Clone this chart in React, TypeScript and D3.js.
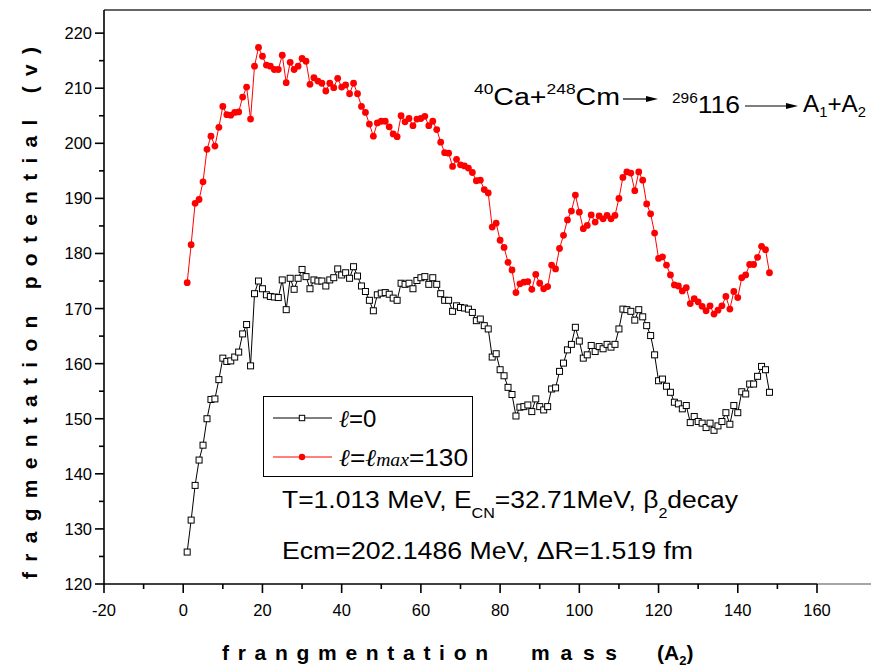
import React from 'react';
import * as d3 from 'd3';

const massA2 = [
  1, 2, 3, 4, 5, 6, 7, 8, 9, 10, 11, 12, 13, 14, 15, 16, 17, 18, 19, 20,
  21, 22, 23, 24, 25, 26, 27, 28, 29, 30, 31, 32, 33, 34, 35, 36, 37, 38, 39, 40,
  41, 42, 43, 44, 45, 46, 47, 48, 49, 50, 51, 52, 53, 54, 55, 56, 57, 58, 59, 60,
  61, 62, 63, 64, 65, 66, 67, 68, 69, 70, 71, 72, 73, 74, 75, 76, 77, 78, 79, 80,
  81, 82, 83, 84, 85, 86, 87, 88, 89, 90, 91, 92, 93, 94, 95, 96, 97, 98, 99, 100,
  101, 102, 103, 104, 105, 106, 107, 108, 109, 110, 111, 112, 113, 114, 115, 116, 117, 118, 119, 120,
  121, 122, 123, 124, 125, 126, 127, 128, 129, 130, 131, 132, 133, 134, 135, 136, 137, 138, 139, 140,
  141, 142, 143, 144, 145, 146, 147, 148,
];

// l = 0 (open squares, black)
const potentialL0 = [
  125.8, 131.6, 137.9, 142.5, 145.2, 150.0, 153.5, 153.6, 157.1, 161.0,
  160.4, 160.5, 161.2, 162.1, 165.4, 167.1, 159.6, 172.7, 175.0, 173.6,
  172.5, 172.2, 172.1, 172.0, 175.2, 169.8, 175.5, 173.5, 175.5, 177.1,
  175.8, 173.6, 175.2, 175.0, 175.0, 174.1, 175.2, 175.6, 177.2, 176.1,
  176.5, 175.5, 177.6, 175.9, 174.1, 173.1, 171.5, 169.6, 172.5, 172.8,
  172.9, 172.6, 171.9, 171.5, 174.6, 174.4, 174.6, 173.6, 175.1, 175.6,
  175.8, 174.4, 175.6, 174.4, 172.7, 171.5, 171.5, 169.5, 170.5, 170.2,
  170.1, 169.9, 169.3, 167.8, 168.1, 166.9, 166.3, 161.2, 161.8, 158.9,
  157.8, 155.7, 154.4, 150.5, 152.1, 152.2, 152.5, 151.3, 153.6, 152.2,
  151.6, 152.2, 155.4, 155.6, 158.6, 160.1, 162.5, 163.5, 166.6, 164.1,
  161.0, 161.6, 163.3, 162.2, 163.1, 162.7, 163.5, 163.0, 163.5, 166.3,
  169.9, 169.8, 169.5, 167.9, 169.8, 168.5, 166.9, 165.1, 161.6, 156.9,
  157.2, 155.9, 154.8, 153.0, 152.7, 151.8, 152.4, 149.3, 150.4, 149.5,
  149.2, 148.4, 149.2, 147.9, 148.7, 149.5, 151.1, 149.0, 152.4, 151.1,
  154.9, 154.5, 156.3, 156.3, 157.7, 159.5, 158.9, 154.8,
];

// l = lmax = 130 (filled circles, red)
const potentialLmax = [
  174.7, 181.6, 189.1, 189.8, 193.0, 198.9, 201.3, 199.5, 202.9, 206.7,
  205.2, 205.1, 205.6, 205.7, 208.4, 210.2, 204.4, 214.0, 217.4, 215.8,
  214.2, 214.0, 213.4, 213.4, 216.0, 211.0, 214.7, 213.4, 214.0, 215.4,
  214.9, 210.7, 211.9, 211.3, 210.9, 209.5, 210.9, 210.1, 211.8, 210.2,
  210.6, 209.0, 210.9, 209.0, 206.7, 205.6, 203.5, 201.3, 203.7, 204.0,
  204.0, 203.0, 201.7, 201.2, 205.0, 203.9, 204.5, 203.2, 204.4, 204.5,
  204.9, 203.2, 204.0, 202.5, 200.2, 198.3, 198.2, 195.8, 197.1, 196.1,
  195.9, 195.5, 194.7, 193.2, 193.3, 191.6, 191.0, 184.8, 185.5, 182.4,
  181.1, 178.4, 177.0, 172.9, 174.5, 174.8, 174.9, 173.5, 176.2, 174.6,
  173.6, 174.0, 177.9, 177.2, 180.9, 183.3, 186.1, 187.7, 190.6, 187.5,
  184.5, 185.1, 187.0, 185.7, 186.8, 186.3, 186.9, 186.3, 186.9, 190.0,
  193.8, 194.8, 194.6, 191.4, 194.8, 193.3, 189.0, 187.2, 183.7, 179.1,
  179.4, 177.9, 176.1, 174.3, 174.1, 173.2, 173.8, 170.9, 171.8, 171.2,
  170.4, 169.6, 170.5, 169.0, 169.7, 170.5, 172.2, 169.9, 173.1, 172.0,
  175.6, 176.1, 178.0, 178.0, 179.3, 181.3, 180.7, 176.5,
];

const xTickValues = [-20, 0, 20, 40, 60, 80, 100, 120, 140, 160];
const xMinorValues = [-10, 10, 30, 50, 70, 90, 110, 130, 150];
const yTickValues = [120, 130, 140, 150, 160, 170, 180, 190, 200, 210, 220];
const yMinorValues = [125, 135, 145, 155, 165, 175, 185, 195, 205, 215];

const FONT = "'Liberation Sans', Arial, Helvetica, sans-serif";
const SERIF = "'Liberation Serif', 'DejaVu Serif', serif";

export default function App() {
  const W = 871;
  const H = 670;
  const x = d3.scaleLinear().domain([-20, 160]).range([104, 817]);
  const y = d3.scaleLinear().domain([120, 224.2]).range([584, 10]);
  const x0 = x(-20);
  const y0 = y(120);

  const line = d3
    .line<number>()
    .x((_, i) => x(massA2[i]))
    .y((d) => y(d));

  const sq = 6;

  return (
    <svg
      width={W}
      height={H}
      viewBox={`0 0 ${W} ${H}`}
      style={{ position: 'absolute', left: 0, top: 0, background: '#fff' }}
      fontFamily={FONT}
    >
      <rect x={0} y={0} width={W} height={H} fill="#fff" />

      {/* frame lines */}
      <line x1={x0} y1={y(224.2)} x2={W} y2={y(224.2)} stroke="#333" strokeWidth={1.3} />
      <line x1={x(160)} y1={y0} x2={W} y2={y0} stroke="#888" strokeWidth={1.3} />

      {/* axes */}
      <line x1={x0} y1={y0} x2={x(160)} y2={y0} stroke="#000" strokeWidth={1.6} />
      <line x1={x0} y1={y0} x2={x0} y2={y(224.2)} stroke="#000" strokeWidth={1.6} />

      {xTickValues.map((t) => (
        <g key={'xt' + t}>
          <line x1={x(t)} x2={x(t)} y1={y0} y2={y0 + 9} stroke="#000" strokeWidth={1.6} />
          <text x={x(t)} y={616} textAnchor="middle" fontSize={16.5} fill="#000">
            {t}
          </text>
        </g>
      ))}
      {xMinorValues.map((t) => (
        <line key={'xm' + t} x1={x(t)} x2={x(t)} y1={y0} y2={y0 + 5} stroke="#000" strokeWidth={1.6} />
      ))}
      {yTickValues.map((t) => (
        <g key={'yt' + t}>
          <line x1={x0 - 9} x2={x0} y1={y(t)} y2={y(t)} stroke="#000" strokeWidth={1.6} />
          <text x={92} y={y(t) + 6} textAnchor="end" fontSize={16.5} fill="#000">
            {t}
          </text>
        </g>
      ))}
      {yMinorValues.map((t) => (
        <line key={'ym' + t} x1={x0 - 5} x2={x0} y1={y(t)} y2={y(t)} stroke="#000" strokeWidth={1.6} />
      ))}

      {/* axis titles */}
      <text
        transform="translate(37,579) rotate(-90)"
        fontSize={21}
        fontWeight="bold"
        textLength={532}
        lengthAdjust="spacing"
        fill="#000"
      >
        fragmentation potential (v)
      </text>
      <text x={222} y={660} fontSize={21} fontWeight="bold" textLength={266} lengthAdjust="spacing" fill="#000">
        frangmentation
      </text>
      <text x={531} y={660} fontSize={21} fontWeight="bold" textLength={86} lengthAdjust="spacing" fill="#000">
        mass
      </text>
      <text x={657} y={660} fontSize={21} fontWeight="bold" fill="#000">
        <tspan>(A</tspan>
        <tspan fontSize={13} dy={5}>2</tspan>
        <tspan dy={-5}>)</tspan>
      </text>

      {/* series l=0 */}
      <path d={line(potentialL0) || ''} fill="none" stroke="#000" strokeWidth={1} />
      {potentialL0.map((v, i) => (
        <rect
          key={'b' + i}
          x={x(massA2[i]) - sq / 2}
          y={y(v) - sq / 2}
          width={sq}
          height={sq}
          fill="#fff"
          stroke="#000"
          strokeWidth={1}
        />
      ))}

      {/* series l=lmax */}
      <path d={line(potentialLmax) || ''} fill="none" stroke="#ff0000" strokeWidth={1} />
      {potentialLmax.map((v, i) => (
        <circle key={'r' + i} cx={x(massA2[i])} cy={y(v)} r={3.4} fill="#ff0000" />
      ))}

      {/* legend */}
      <rect x={263.5} y={396.5} width={209} height={80} fill="#fff" stroke="#000" strokeWidth={1} />
      <line x1={273} x2={332} y1={418} y2={418} stroke="#000" strokeWidth={1} />
      <rect x={302 - 2.7} y={418 - 2.7} width={5.4} height={5.4} fill="#fff" stroke="#000" strokeWidth={1} />
      <text x={339} y={427} fontSize={24} fill="#000">
        <tspan fontFamily={SERIF} fontStyle="italic">ℓ</tspan>
        <tspan>=0</tspan>
      </text>
      <line x1={273} x2={332} y1={457} y2={457} stroke="#ff0000" strokeWidth={1} />
      <circle cx={302} cy={457} r={3.2} fill="#ff0000" />
      <text x={339} y={466} fontSize={24} fill="#000" textLength={129} lengthAdjust="spacingAndGlyphs">
        <tspan fontFamily={SERIF} fontStyle="italic">ℓ</tspan>
        <tspan>=</tspan>
        <tspan fontFamily={SERIF} fontStyle="italic">ℓ</tspan>
        <tspan fontFamily={SERIF} fontStyle="italic" fontSize={18}>max</tspan>
        <tspan>=130</tspan>
      </text>

      {/* info text */}
      <text x={282} y={508} fontSize={23} fill="#000" textLength={456} lengthAdjust="spacingAndGlyphs">
        <tspan>T=1.013 MeV, E</tspan>
        <tspan fontSize={14} dy={10}>CN</tspan>
        <tspan dy={-10}>=32.71MeV, β</tspan>
        <tspan fontSize={14} dy={10}>2</tspan>
        <tspan dy={-10}>decay</tspan>
      </text>
      <text x={282} y={559} fontSize={23} fill="#000" textLength={411} lengthAdjust="spacingAndGlyphs">
        Ecm=202.1486 MeV, ΔR=1.519 fm
      </text>

      {/* reaction annotation */}
      <text x={474} y={105} fontSize={23} fill="#000" textLength={146} lengthAdjust="spacingAndGlyphs">
        <tspan fontSize={14} dy={-11}>40</tspan>
        <tspan dy={11}>Ca+</tspan>
        <tspan fontSize={14} dy={-11}>248</tspan>
        <tspan dy={11}>Cm</tspan>
      </text>
      <line x1={623} x2={648} y1={99} y2={99} stroke="#000" strokeWidth={1.2} />
      <polygon points="646,96 658,99 646,102" fill="#000" />
      <text x={672} y={113} fontSize={24} fill="#000" textLength={68} lengthAdjust="spacingAndGlyphs">
        <tspan fontSize={14} dy={-10}>296</tspan>
        <tspan dy={10}>116</tspan>
      </text>
      <line x1={745} x2={788} y1={106} y2={106} stroke="#000" strokeWidth={1.2} />
      <polygon points="786,103 798,106 786,109" fill="#000" />
      <text x={803} y={112} fontSize={23} fill="#000" textLength={63} lengthAdjust="spacingAndGlyphs">
        <tspan>A</tspan>
        <tspan fontSize={14} dy={5}>1</tspan>
        <tspan dy={-5}>+A</tspan>
        <tspan fontSize={14} dy={5}>2</tspan>
      </text>
    </svg>
  );
}
